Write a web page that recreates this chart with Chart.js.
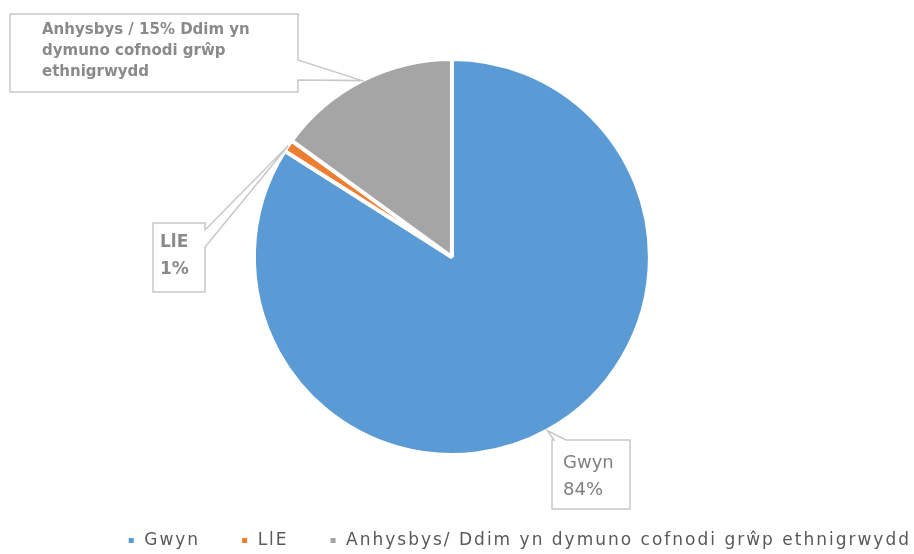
<!DOCTYPE html>
<html>
<head>
<meta charset="utf-8">
<script src="https://cdn.jsdelivr.net/npm/chart.js@4"></script>
<style>
  html, body { margin: 0; padding: 0; background: #fff; }
  #wrap { width: 914px; height: 554px; }
</style>
</head>
<body>
<div id="wrap"><canvas id="ethnicityChart"></canvas></div>
<script>
// Data
const labels = ["Gwyn", "LlE", "Anhysbys/ Ddim yn dymuno cofnodi grŵp ethnigrwydd"];
const values = [84, 1, 15];
const colors = ["#5b9bd5", "#ed7d31", "#a5a5a5"];
// text inside each callout box
const calloutLines = [
  ["Gwyn", "84%"],
  ["LlE", "1%"],
  ["Anhysbys / 15% Ddim yn", "dymuno cofnodi grŵp", "ethnigrwydd"],
];

// Callout box layout (box, where the pointer leaves the box, text style)
const calloutLayout = [
  { x: 552, y: 440, w: 78, h: 69, side: "top", a: 2, b: 14, tx: 563, ty: [463, 490], font: "18px 'DejaVu Sans'", color: "#808080" },
  { x: 153, y: 223, w: 52, h: 69, side: "right", a: 7, b: 24, tx: 160, ty: [243, 270], font: "bold 17px 'DejaVu Sans'", color: "#8a8a8a" },
  { x: 10, y: 14, w: 288, h: 78, side: "right", a: 46, b: 66, tx: 42, ty: [30, 51, 72], font: "bold 15px 'DejaVu Sans'", color: "#8a8a8a" },
];

// wider letter spacing for the legend (the original font is a wide one)
const spacingPlugin = {
  id: "spacing",
  beforeLayout: (chart) => { chart.ctx.letterSpacing = "2px"; },
  beforeDraw: (chart) => { chart.ctx.letterSpacing = "2px"; },
};

const calloutPlugin = {
  id: "callouts",
  afterDraw: (chart) => {
    const ctx = chart.ctx;
    const arcs = chart.getDatasetMeta(0).data;
    arcs.forEach((arc, i) => {
      const c = calloutLayout[i];
      const mid = (arc.startAngle + arc.endAngle) / 2;
      const tipX = arc.x + Math.cos(mid) * arc.outerRadius;
      const tipY = arc.y + Math.sin(mid) * arc.outerRadius;

      ctx.save();
      ctx.letterSpacing = "0px";
      ctx.beginPath();
      ctx.moveTo(c.x, c.y);
      if (c.side === "top") {
        ctx.lineTo(c.x + c.a, c.y);
        ctx.lineTo(tipX, tipY);
        ctx.lineTo(c.x + c.b, c.y);
      }
      ctx.lineTo(c.x + c.w, c.y);
      if (c.side === "right") {
        ctx.lineTo(c.x + c.w, c.y + c.a);
        ctx.lineTo(tipX, tipY);
        ctx.lineTo(c.x + c.w, c.y + c.b);
      }
      ctx.lineTo(c.x + c.w, c.y + c.h);
      ctx.lineTo(c.x, c.y + c.h);
      ctx.closePath();
      ctx.fillStyle = "#ffffff";
      ctx.fill();
      ctx.strokeStyle = "#c8c8c8";
      ctx.lineWidth = 1.5;
      ctx.stroke();

      ctx.fillStyle = c.color;
      ctx.font = c.font;
      ctx.textBaseline = "middle";
      ctx.textAlign = "left";
      calloutLines[i].forEach((line, j) => {
        ctx.fillText(line, c.tx, c.ty[j]);
      });
      ctx.restore();
    });
  },
};

const ctx = document.getElementById("ethnicityChart").getContext("2d");
new Chart(ctx, {
  type: "pie",
  data: {
    labels: labels,
    datasets: [
      {
        data: values,
        backgroundColor: colors,
        borderColor: "#ffffff",
        borderWidth: 4,
        radius: 198,
      },
    ],
  },
  options: {
    responsive: true,
    maintainAspectRatio: false,
    animation: false,
    layout: {
      padding: { top: 22, bottom: -5, right: -37 },
    },
    plugins: {
      tooltip: { enabled: false },
      // empty title on the right, only to nudge the pie a little to the left
      title: {
        display: true,
        position: "right",
        text: "",
        font: { size: 1 },
        padding: 23,
      },
      legend: {
        display: true,
        position: "bottom",
        align: "end",
        labels: {
          boxWidth: 9,
          boxHeight: 9,
          padding: 40,
          color: "#595959",
          font: { family: "'DejaVu Sans'", size: 17 },
        },
      },
    },
  },
  plugins: [spacingPlugin, calloutPlugin],
});
</script>
</body>
</html>
